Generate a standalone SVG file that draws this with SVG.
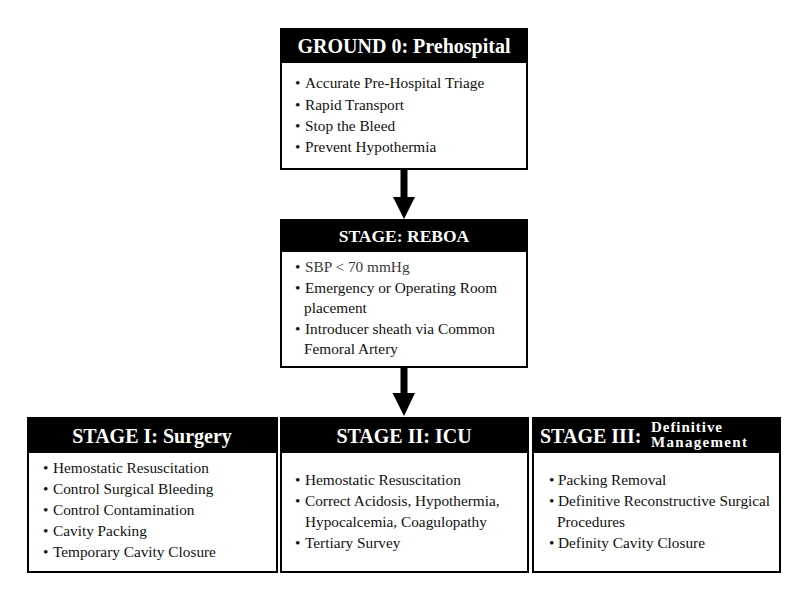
<svg xmlns="http://www.w3.org/2000/svg" width="810" height="600" viewBox="0 0 810 600">
<style>
.box{fill:#fff;stroke:#000;stroke-width:2}
.hdr{fill:#000}
.title{font-family:"Liberation Serif","Times New Roman",serif;font-weight:bold;font-size:20px;fill:#fff}
.item{font-family:"Liberation Serif","Times New Roman",serif;font-size:15.3px;fill:#111}
.arrow{fill:#000}
</style>
<rect width="810" height="600" fill="#fff"/>
<g id="connectors">
<polygon class="arrow" points="400.5,168 407.5,168 407.5,197 415,197 404,219 393,197 400.5,197"/>
<polygon class="arrow" points="400.5,366 407.5,366 407.5,393 415,393 404,416 392.5,393 400.5,393"/>
</g>
<g id="ground0">
<rect class="box" x="281" y="29" width="246" height="140"/>
<rect class="hdr" x="281" y="29" width="246" height="34"/>
<text class="title" x="404" y="53" text-anchor="middle">GROUND 0: Prehospital</text>
<text class="item" y="88"><tspan x="295">•</tspan><tspan x="305">Accurate Pre-Hospital Triage</tspan></text>
<text class="item" y="110"><tspan x="295">•</tspan><tspan x="305">Rapid Transport</tspan></text>
<text class="item" y="131"><tspan x="295">•</tspan><tspan x="305">Stop the Bleed</tspan></text>
<text class="item" y="152"><tspan x="295">•</tspan><tspan x="305">Prevent Hypothermia</tspan></text>
</g>
<g id="reboa">
<rect class="box" x="281" y="220" width="246" height="147"/>
<rect class="hdr" x="281" y="220" width="246" height="32"/>
<text class="title" x="404" y="242" text-anchor="middle" style="font-size:17.5px">STAGE: REBOA</text>
<text class="item" y="272"><tspan x="295">•</tspan><tspan x="305" fill="#3a3a3a">SBP &lt; 70 mmHg</tspan></text>
<text class="item" y="293"><tspan x="295">•</tspan><tspan x="305">Emergency or Operating Room</tspan></text>
<text class="item" y="313"><tspan x="304">placement</tspan></text>
<text class="item" y="334"><tspan x="295">•</tspan><tspan x="305">Introducer sheath via Common</tspan></text>
<text class="item" y="354"><tspan x="304">Femoral Artery</tspan></text>
</g>
<g id="stage1">
<rect class="box" x="28" y="418" width="249" height="154"/>
<rect class="hdr" x="28" y="418" width="249" height="35"/>
<text class="title" x="152" y="443" text-anchor="middle">STAGE I: Surgery</text>
<text class="item" y="473"><tspan x="43">•</tspan><tspan x="53">Hemostatic Resuscitation</tspan></text>
<text class="item" y="494"><tspan x="43">•</tspan><tspan x="53">Control Surgical Bleeding</tspan></text>
<text class="item" y="515"><tspan x="43">•</tspan><tspan x="53">Control Contamination</tspan></text>
<text class="item" y="536"><tspan x="43">•</tspan><tspan x="53">Cavity Packing</tspan></text>
<text class="item" y="557"><tspan x="43">•</tspan><tspan x="53">Temporary Cavity Closure</tspan></text>
</g>
<g id="stage2">
<rect class="box" x="281" y="418" width="247" height="154"/>
<rect class="hdr" x="281" y="418" width="247" height="35"/>
<text class="title" x="404" y="443" text-anchor="middle">STAGE II: ICU</text>
<text class="item" y="485"><tspan x="295">•</tspan><tspan x="305">Hemostatic Resuscitation</tspan></text>
<text class="item" y="506"><tspan x="295">•</tspan><tspan x="305">Correct Acidosis, Hypothermia,</tspan></text>
<text class="item" y="527"><tspan x="305">Hypocalcemia, Coagulopathy</tspan></text>
<text class="item" y="548"><tspan x="295">•</tspan><tspan x="305">Tertiary Survey</tspan></text>
</g>
<g id="stage3">
<rect class="box" x="533" y="418" width="247" height="154"/>
<rect class="hdr" x="533" y="418" width="247" height="35"/>
<text class="title" x="540" y="443">STAGE III:</text>
<text class="title" x="651" y="432" style="font-size:15px" textLength="71" lengthAdjust="spacing">Definitive</text>
<text class="title" x="651" y="447" style="font-size:15px" textLength="96" lengthAdjust="spacing">Management</text>
<text class="item" y="485"><tspan x="549">•</tspan><tspan x="558">Packing Removal</tspan></text>
<text class="item" y="506"><tspan x="549">•</tspan><tspan x="558">Definitive Reconstructive Surgical</tspan></text>
<text class="item" y="527"><tspan x="557">Procedures</tspan></text>
<text class="item" y="548"><tspan x="549">•</tspan><tspan x="558">Definity Cavity Closure</tspan></text>
</g>
</svg>
